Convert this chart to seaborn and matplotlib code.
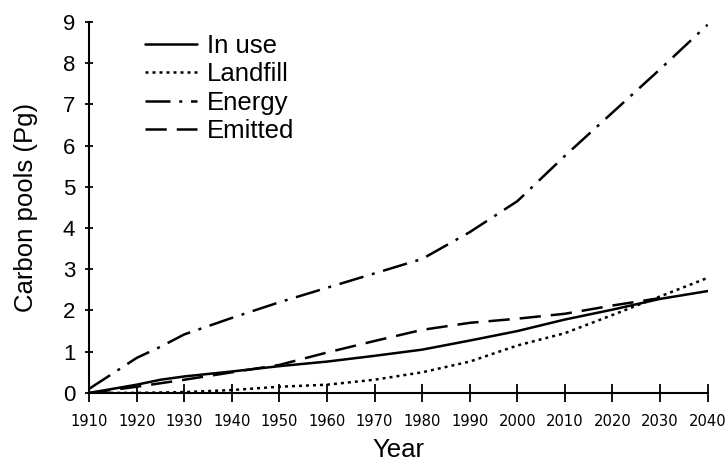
import matplotlib
matplotlib.use("Agg")
import matplotlib.pyplot as plt
import pandas as pd
import seaborn as sns

years = [1910, 1920, 1925, 1930, 1940, 1950, 1960, 1970, 1980, 1990, 2000, 2010, 2020, 2030, 2040]
in_use = [0.0, 0.2, 0.32, 0.4, 0.52, 0.65, 0.76, 0.9, 1.05, 1.27, 1.5, 1.78, 2.02, 2.28, 2.47]
landfill = [0.0, 0.0, 0.01, 0.02, 0.07, 0.15, 0.2, 0.32, 0.5, 0.76, 1.15, 1.45, 1.89, 2.34, 2.79]
energy = [0.1, 0.85, 1.12, 1.42, 1.82, 2.2, 2.55, 2.9, 3.25, 3.9, 4.65, 5.75, 6.8, 7.85, 8.93]
emitted_years = [1910, 1920, 1930, 1940, 1950, 1960, 1970, 1980, 1990, 2000, 2010, 2020, 2030]
emitted = [0.0, 0.15, 0.32, 0.5, 0.68, 0.98, 1.26, 1.53, 1.7, 1.8, 1.92, 2.12, 2.3]
year_ticks = list(range(1910, 2041, 10))

df = pd.concat([
    pd.DataFrame({'Year': years, 'Pool': 'In use', 'C': in_use}),
    pd.DataFrame({'Year': years, 'Pool': 'Landfill', 'C': landfill}),
    pd.DataFrame({'Year': years, 'Pool': 'Energy', 'C': energy}),
    pd.DataFrame({'Year': emitted_years, 'Pool': 'Emitted', 'C': emitted}),
])

sns.set_style('ticks', rc={'text.color': 'black', 'axes.labelcolor': 'black',
                           'xtick.color': 'black', 'ytick.color': 'black',
                           'axes.edgecolor': 'black'})
plt.rcParams['font.family'] = ['Liberation Sans', 'DejaVu Sans']

fig = plt.figure(figsize=(7.25, 4.65), dpi=100)
ax = fig.add_axes([0.123, 0.155, 0.853, 0.798])

dashes = {
    'In use': '',
    'Landfill': (1.2, 1.6),
    'Energy': (10, 3.5, 1.2, 3.5),
    'Emitted': (8.5, 4),
}
sns.lineplot(data=df, x='Year', y='C', hue='Pool', style='Pool',
             palette=['black'] * 4, dashes=dashes, linewidth=1.8, ax=ax)

ax.set_xlim(1910, 2040)
ax.set_ylim(0, 9)
ax.set_xticks(year_ticks)
ax.set_yticks(range(0, 10))
ax.set_xticklabels([str(y) for y in year_ticks], family='DejaVu Sans',
                   fontstretch='condensed', fontsize=11.8)
ax.tick_params(axis='y', labelsize=16, direction='inout', length=6, width=1.3, pad=7)
ax.tick_params(axis='x', direction='inout', length=13, width=1.3, pad=9)
ax.set_xlabel('Year', fontsize=18.5, labelpad=6)
ax.set_ylabel('Carbon pools (Pg)', fontsize=18.5, labelpad=18)
for s in ['top', 'right']:
    ax.spines[s].set_visible(False)
for s in ['left', 'bottom']:
    ax.spines[s].set_linewidth(1.5)

ax.legend(title=None, frameon=False, fontsize=18.5, loc='upper left',
          bbox_to_anchor=(0.186, 0.95), bbox_transform=fig.transFigure,
          handlelength=2.0, handletextpad=0.4, labelspacing=0.18, borderaxespad=0)

plt.savefig('out.png', dpi=100)
